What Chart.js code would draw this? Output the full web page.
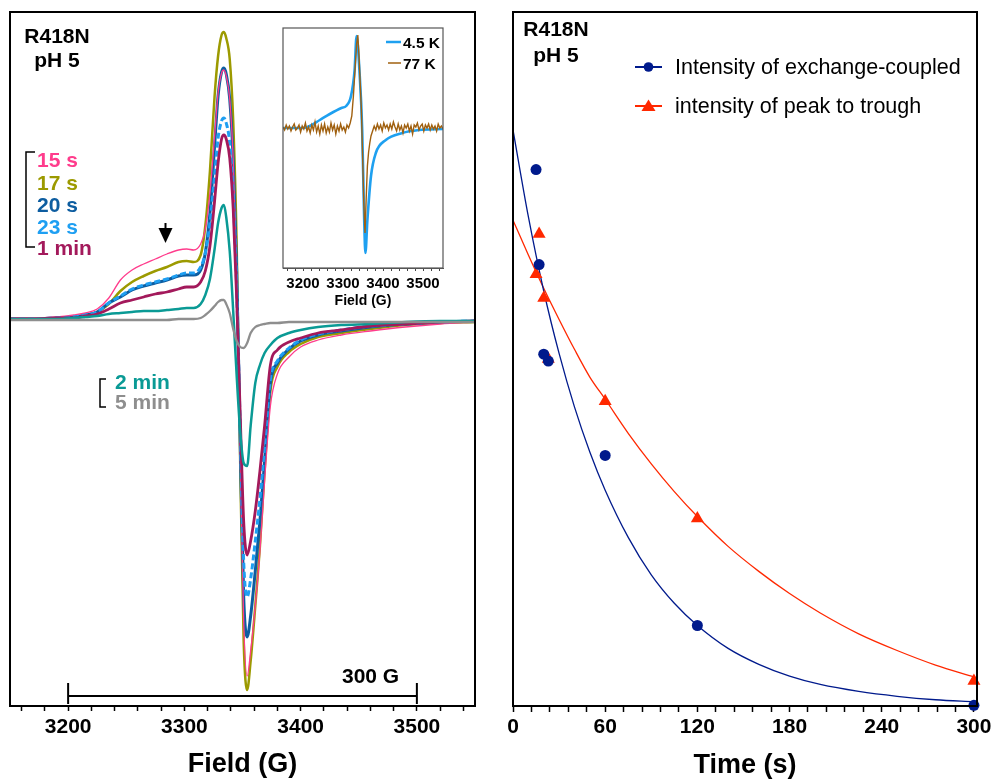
<!DOCTYPE html>
<html>
<head>
<meta charset="utf-8">
<title>R418N pH 5</title>
<script src="https://cdn.jsdelivr.net/npm/chart.js@4"></script>
<style>
  html, body { margin: 0; padding: 0; background: #fff; }
  body { position: relative; width: 995px; height: 783px; overflow: hidden; }
  canvas { position: absolute; }
  #epr { left: 0; top: 0; }
  #inset { left: 260px; top: 15px; }
  #decay { left: 495px; top: 0; }
</style>
</head>
<body>
<canvas id="epr" width="490" height="783"></canvas>
<canvas id="inset" width="200" height="300"></canvas>
<canvas id="decay" width="500" height="783"></canvas>
<script>
const FONT = '"Liberation Sans", Arial, Helvetica, sans-serif';

// ---- EPR spectra (field in gauss, intensity in arbitrary units) ----
const fieldG = [3150, 3170, 3190, 3205, 3215, 3225, 3235, 3245, 3255, 3265, 3275, 3285, 3295, 3302, 3308,
  3314, 3318, 3322, 3326, 3329, 3332, 3334, 3336, 3339, 3342, 3345, 3348, 3351, 3354, 3357,
  3361, 3365, 3369, 3374, 3380, 3390, 3400, 3415, 3435, 3460, 3490, 3520, 3550];

const trace15s = [3, 3, 4, 6, 8, 12, 23, 41, 51, 57, 62, 67, 71, 72, 71,
  77, 92, 128, 185, 228, 248, 251, 245, 222, 162, 50, -130, -300, -355, -330,
  -285, -230, -160, -85, -53, -36, -26, -19, -14, -10, -6, -3, -1];
const trace17s = [2, 2, 3, 4, 6, 9, 17, 30, 39, 45, 50, 54, 59, 60, 59,
  66, 95, 150, 225, 265, 286, 289, 283, 262, 200, 75, -140, -320, -369, -340,
  -285, -225, -150, -70, -46, -31, -23, -16, -12, -8, -4, -2, -1];
const trace20s = [2, 2, 3, 4, 6, 9, 18, 24, 31, 35, 38, 41, 45, 46, 46,
  51, 68, 108, 175, 225, 249, 253, 247, 222, 160, 50, -120, -275, -316, -295,
  -250, -200, -140, -62, -42, -28, -20, -14, -10, -6, -3, -1, 0];
const trace23s = [2, 2, 3, 4, 6, 9, 18, 25, 32, 36, 39, 42, 46, 48, 48,
  54, 68, 98, 145, 183, 200, 203, 198, 178, 125, 32, -105, -240, -276, -258,
  -220, -178, -125, -58, -40, -27, -19, -13, -9, -5, -3, -1, 0];
const trace1min = [2, 2, 3, 3, 5, 7, 12, 18, 21, 24, 27, 29, 32, 34, 34,
  39, 50, 75, 120, 158, 182, 186, 182, 163, 112, 22, -92, -200, -234, -220,
  -190, -150, -105, -44, -29, -21, -17, -12, -9, -5, -3, -1, 0];
const trace2min = [2, 2, 2, 3, 4, 5, 7, 8, 9, 10, 10, 11, 12, 13, 13,
  17, 26, 42, 72, 98, 113, 116, 104, 70, 10, -55, -110, -142, -145, -105,
  -62, -44, -32, -24, -17, -12, -9, -6, -4, -3, -1, 0, 0];
const trace5min = [1, 1, 1, 1, 1, 1, 1, 1, 1, 1, 1, 1, 2, 2, 2,
  3, 6, 10, 15, 19, 21, 21, 17, 8, -8, -20, -26, -27, -22, -12,
  -6, -4, -3, -2, -2, -1, -1, -1, -1, -1, -1, -1, -1];

const traceLabels = ['15 s', '17 s', '20 s', '23 s', '1 min', '2 min', '5 min'];

const fieldTicks = [3160, 3180, 3200, 3220, 3240, 3260, 3280, 3300, 3320, 3340,
  3360, 3380, 3400, 3420, 3440, 3460, 3480, 3500, 3520, 3540];
const fieldTickLabels = [3200, 3300, 3400, 3500];

// ---- inset: 4.5 K and 77 K spectra ----
const field45K = [3150, 3200, 3217, 3242, 3267, 3296, 3308, 3320, 3329, 3334, 3341, 3348, 3353, 3356,
  3361, 3370, 3382, 3407, 3448, 3490, 3550];
const trace45K = [0, 0, 2, 8, 14, 20, 22, 32, 58, 92, 58, -2, -92, -125,
  -92, -48, -25, -12, -5, -2, -1];

const field77K = [3150, 3154, 3158, 3162, 3166, 3170, 3174, 3178, 3182, 3186, 3190, 3194, 3198, 3202,
  3206, 3210, 3214, 3218, 3222, 3226, 3230, 3234, 3238, 3242, 3246, 3250, 3254, 3258, 3262, 3266,
  3270, 3274, 3278, 3282, 3286, 3290, 3294, 3298, 3302, 3306, 3310, 3314, 3318,
  3322, 3326, 3330, 3334, 3337, 3340, 3343, 3346, 3349, 3352, 3355, 3358, 3361, 3364, 3367, 3370, 3374,
  3378, 3382, 3386, 3390, 3394, 3398, 3402, 3406, 3410, 3414, 3418, 3422, 3426, 3430, 3434, 3438,
  3442, 3446, 3450, 3454, 3458, 3462, 3466, 3470, 3474, 3478, 3482, 3486, 3490, 3494, 3498, 3502,
  3506, 3510, 3514, 3518, 3522, 3526, 3530, 3534, 3538, 3542, 3546, 3550];
const trace77K = [1, -2, 3, -1, 2, -3, 1, 4, -2, 0, 3, -4, 2, -1,
  5, -3, 1, -5, 3, -2, 6, -4, 2, -6, 3, -3, 4, -5, 1, -4,
  5, -2, 3, -6, 2, -3, 4, -2, 1, -4, 3, 0, 5,
  12, 32, 58, 84, 93, 72, 45, 18, -28, -75, -105, -70, -38, -24, -15, -8, -3,
  2, -2, 4, -1, 3, -3, 5, 0, 3, -2, 4, -1, 6, 1, -3, 4,
  -2, 2, -5, 3, 0, 4, -3, 2, -6, 3, 1, 5, -2, 2, 4, -3,
  3, 0, 4, -2, 3, -1, 2, -3, 4, 0, 2, -1];

// ---- decay of the two intensities with freeze time ----
const timeS = [15, 17, 20, 23, 60, 120, 300];
const exchangeCoupled = [77.3, 63.6, 50.7, 49.7, 36.1, 11.6, 0.1];
const peakToTrough = [62.2, 68.0, 58.8, 50.0, 43.9, 27.0, 3.6];

// fitted decay curves
const fitTimeBlue = [0, 10, 20, 30, 40, 50, 60, 75, 90, 105, 120, 140, 160, 180, 200, 225, 250, 275, 300];
const fitBlue = [83, 70.5, 59.8, 50.8, 43.1, 36.6, 31.1, 24.3, 18.9, 14.8, 11.6, 8.3, 6.0, 4.3, 3.1, 2.1, 1.4, 0.9, 0.6];
const fitTimeRed = [0, 10, 20, 30, 40, 50, 60, 75, 90, 105, 120, 140, 160, 180, 200, 225, 250, 275, 300];
const fitRed = [70, 65.0, 60.2, 55.7, 51.4, 47.4, 44.2, 39.3, 34.9, 30.9, 27.3, 23.0, 19.4, 16.2, 13.4, 10.4, 8.0, 5.9, 4.2];

const timeTicks = [0, 12, 24, 36, 48, 60, 72, 84, 96, 108, 120, 132, 144, 156, 168,
  180, 192, 204, 216, 228, 240, 252, 264, 276, 288, 300];
const timeTickLabels = [0, 60, 120, 180, 240, 300];

const legendDecay = ['Intensity of exchange-coupled', 'intensity of peak to trough'];

const COL = {
  s15: '#ff3c8c', s17: '#9c9a00', s20: '#0d5da0', s23: '#1e9ff2',
  m1: '#a3195b', m2: '#0a9a95', m5: '#8e8e8e',
  k45: '#1ea0f0', k77: '#a0600f',
  navy: '#001a8c', red: '#ff2800'
};

function pts(xs, ys) {
  return xs.map((x, i) => ({ x: x, y: ys[i] }));
}

function text(ctx, str, x, y, color, size, weight, align) {
  ctx.fillStyle = color;
  ctx.font = (weight || 'bold') + ' ' + size + 'px ' + FONT;
  ctx.textAlign = align || 'left';
  ctx.textBaseline = 'alphabetic';
  ctx.fillText(str, x, y);
}

function bracket(ctx, x, y0, y1, w) {
  ctx.beginPath();
  ctx.moveTo(x + w, y0);
  ctx.lineTo(x, y0);
  ctx.lineTo(x, y1);
  ctx.lineTo(x + w, y1);
  ctx.stroke();
}

const useTicks = list => axis => { axis.ticks = list.map(v => ({ value: v })); };
const onlyLabels = list => v => (list.includes(v) ? String(v) : '');

const frame = {
  id: 'frame',
  afterDraw(chart, args, opts) {
    const { ctx, chartArea: a } = chart;
    ctx.save();
    ctx.strokeStyle = opts.color || '#000';
    ctx.lineWidth = opts.width || 2;
    ctx.strokeRect(a.left, a.top, a.right - a.left, a.bottom - a.top);
    ctx.restore();
  }
};

// labels, brackets, arrow and 300 G bar on the spectra panel
const eprNotes = {
  id: 'eprNotes',
  afterDraw(chart) {
    const ctx = chart.ctx;
    const xs = chart.scales.x;
    ctx.save();
    text(ctx, 'R418N', 57, 43, '#000', 21, 'bold', 'center');
    text(ctx, 'pH 5', 57, 67, '#000', 21, 'bold', 'center');

    const cols = [COL.s15, COL.s17, COL.s20, COL.s23, COL.m1];
    const base = [167, 190, 212, 234, 255];
    for (let i = 0; i < 5; i++) text(ctx, traceLabels[i], 37, base[i], cols[i], 21);
    text(ctx, traceLabels[5], 115, 389, COL.m2, 21);
    text(ctx, traceLabels[6], 115, 409, COL.m5, 21);

    ctx.strokeStyle = '#000';
    ctx.lineWidth = 1.5;
    bracket(ctx, 26, 152, 247, 9);
    bracket(ctx, 100, 379, 407, 6);

    // arrow marking the exchange-coupled shoulder
    ctx.fillStyle = '#000';
    ctx.lineWidth = 2;
    ctx.beginPath();
    ctx.moveTo(165.5, 223);
    ctx.lineTo(165.5, 232);
    ctx.stroke();
    ctx.beginPath();
    ctx.moveTo(158.5, 228);
    ctx.lineTo(172.5, 228);
    ctx.lineTo(165.5, 243);
    ctx.closePath();
    ctx.fill();

    // 300 G scale bar
    const xa = xs.getPixelForValue(3200), xb = xs.getPixelForValue(3500);
    ctx.lineWidth = 2;
    ctx.beginPath();
    ctx.moveTo(xa, 696); ctx.lineTo(xb, 696);
    ctx.moveTo(xa, 683); ctx.lineTo(xa, 704);
    ctx.moveTo(xb, 683); ctx.lineTo(xb, 704);
    ctx.stroke();
    text(ctx, '300 G', 342, 683, '#000', 21);
    ctx.restore();
  }
};

const insetNotes = {
  id: 'insetNotes',
  afterDraw(chart) {
    const ctx = chart.ctx;
    ctx.save();
    ctx.lineWidth = 2.5;
    ctx.strokeStyle = COL.k45;
    ctx.beginPath(); ctx.moveTo(126, 27); ctx.lineTo(141, 27); ctx.stroke();
    ctx.lineWidth = 1.5;
    ctx.strokeStyle = COL.k77;
    ctx.beginPath(); ctx.moveTo(128, 48); ctx.lineTo(141, 48); ctx.stroke();
    text(ctx, '4.5 K', 143, 32.5, '#000', 15.5);
    text(ctx, '77 K', 143, 53.5, '#000', 15.5);
    ctx.restore();
  }
};

const decayNotes = {
  id: 'decayNotes',
  afterDraw(chart) {
    const ctx = chart.ctx;
    ctx.save();
    text(ctx, 'R418N', 61, 36, '#000', 21, 'bold', 'center');
    text(ctx, 'pH 5', 61, 62, '#000', 21, 'bold', 'center');

    ctx.lineWidth = 2;
    ctx.strokeStyle = COL.navy;
    ctx.beginPath(); ctx.moveTo(140, 67); ctx.lineTo(167, 67); ctx.stroke();
    ctx.fillStyle = COL.navy;
    ctx.beginPath(); ctx.arc(153.5, 67, 4.8, 0, Math.PI * 2); ctx.fill();

    ctx.strokeStyle = COL.red;
    ctx.beginPath(); ctx.moveTo(140, 106); ctx.lineTo(167, 106); ctx.stroke();
    ctx.fillStyle = COL.red;
    ctx.beginPath();
    ctx.moveTo(153.5, 99.5); ctx.lineTo(160.5, 111); ctx.lineTo(146.5, 111);
    ctx.closePath(); ctx.fill();

    text(ctx, legendDecay[0], 180, 74, '#000', 21.5, 'normal');
    text(ctx, legendDecay[1], 180, 113, '#000', 21.5, 'normal');
    ctx.restore();
  }
};

// ---- spectra panel ----
const traceSet = [
  { data: trace5min, color: COL.m5, width: 2.3 },
  { data: trace2min, color: COL.m2, width: 2.5 },
  { data: trace1min, color: COL.m1, width: 2.8 },
  { data: trace23s, color: COL.s23, width: 3, dash: [6, 3] },
  { data: trace15s, color: COL.s15, width: 1.3 },
  { data: trace20s, color: COL.s20, width: 3 },
  { data: trace17s, color: COL.s17, width: 2.5 }
];

new Chart(document.getElementById('epr'), {
  type: 'scatter',
  data: {
    datasets: traceSet.map(t => ({
      data: pts(fieldG, t.data),
      showLine: true,
      borderColor: t.color,
      borderWidth: t.width,
      borderDash: t.dash || [],
      pointRadius: 0,
      cubicInterpolationMode: 'monotone'
    }))
  },
  options: {
    responsive: false,
    animation: false,
    events: [],
    layout: { padding: { left: 10, top: 12, right: 15, bottom: 0 } },
    plugins: { legend: { display: false }, tooltip: { enabled: false }, frame: { width: 2 } },
    scales: {
      x: {
        type: 'linear', min: 3150, max: 3550,
        afterBuildTicks: useTicks(fieldTicks),
        afterFit: s => { s.height = 77; },
        ticks: { autoSkip: false, maxRotation: 0, padding: 4, color: '#000',
          font: { family: FONT, size: 21, weight: 'bold' }, callback: onlyLabels(fieldTickLabels) },
        grid: { drawOnChartArea: false, tickLength: 5, color: '#000', tickWidth: 1.5 },
        border: { display: true, color: '#000', width: 2 },
        title: { display: true, text: 'Field (G)', color: '#000',
          font: { family: FONT, size: 27, weight: 'bold' }, padding: { top: 0, bottom: 2 } }
      },
      y: { display: false, min: -385, max: 309 }
    }
  },
  plugins: [frame, eprNotes]
});

// ---- inset ----
new Chart(document.getElementById('inset'), {
  type: 'scatter',
  data: {
    datasets: [
      { data: pts(field77K, trace77K), showLine: true, borderColor: COL.k77, borderWidth: 1.4, pointRadius: 0, tension: 0 },
      { data: pts(field45K, trace45K), showLine: true, borderColor: COL.k45, borderWidth: 2.6, pointRadius: 0, cubicInterpolationMode: 'monotone' }
    ]
  },
  options: {
    responsive: false,
    animation: false,
    events: [],
    layout: { padding: { left: 23, top: 13, right: 17, bottom: 0 } },
    plugins: { legend: { display: false }, tooltip: { enabled: false }, frame: { width: 1.2, color: '#555' } },
    scales: {
      x: {
        type: 'linear', min: 3150, max: 3550,
        afterBuildTicks: useTicks(fieldTicks),
        afterFit: s => { s.height = 47; },
        ticks: { autoSkip: false, maxRotation: 0, padding: 4, color: '#000',
          font: { family: FONT, size: 15, weight: 'bold' }, callback: onlyLabels(fieldTickLabels) },
        grid: { drawOnChartArea: false, tickLength: 3, color: '#444', tickWidth: 1 },
        border: { display: true, color: '#555', width: 1 },
        title: { display: true, text: 'Field (G)', color: '#000',
          font: { family: FONT, size: 14, weight: 'bold' }, padding: { top: 0, bottom: 5 } }
      },
      y: { display: false, min: -140, max: 100 }
    }
  },
  plugins: [frame, insetNotes]
});

// ---- decay panel ----
new Chart(document.getElementById('decay'), {
  type: 'scatter',
  data: {
    datasets: [
      { data: pts(timeS, exchangeCoupled), backgroundColor: COL.navy, borderColor: COL.navy,
        pointStyle: 'circle', pointRadius: 5.5, borderWidth: 0, clip: false },
      { data: pts(timeS, peakToTrough), backgroundColor: COL.red, borderColor: COL.red,
        pointStyle: 'triangle', pointRadius: 7.5, borderWidth: 0, clip: false },
      { data: pts(fitTimeBlue, fitBlue), showLine: true, borderColor: COL.navy, borderWidth: 1.3,
        pointRadius: 0, cubicInterpolationMode: 'monotone' },
      { data: pts(fitTimeRed, fitRed), showLine: true, borderColor: COL.red, borderWidth: 1.3,
        pointRadius: 0, cubicInterpolationMode: 'monotone' }
    ]
  },
  options: {
    responsive: false,
    animation: false,
    events: [],
    layout: { padding: { left: 18, top: 12, right: 18, bottom: 0 } },
    plugins: { legend: { display: false }, tooltip: { enabled: false }, frame: { width: 2 } },
    scales: {
      x: {
        type: 'linear', min: 0, max: 302,
        afterBuildTicks: useTicks(timeTicks),
        afterFit: s => { s.height = 77; },
        ticks: { autoSkip: false, maxRotation: 0, padding: 3, color: '#000',
          font: { family: FONT, size: 21, weight: 'bold' }, callback: onlyLabels(timeTickLabels) },
        grid: { drawOnChartArea: false, tickLength: 6, color: '#000', tickWidth: 1.5 },
        border: { display: true, color: '#000', width: 2 },
        title: { display: true, text: 'Time (s)', color: '#000',
          font: { family: FONT, size: 27, weight: 'bold' }, padding: { top: 0, bottom: 1 } }
      },
      y: { display: false, min: 0, max: 100 }
    }
  },
  plugins: [frame, decayNotes]
});
</script>
</body>
</html>
